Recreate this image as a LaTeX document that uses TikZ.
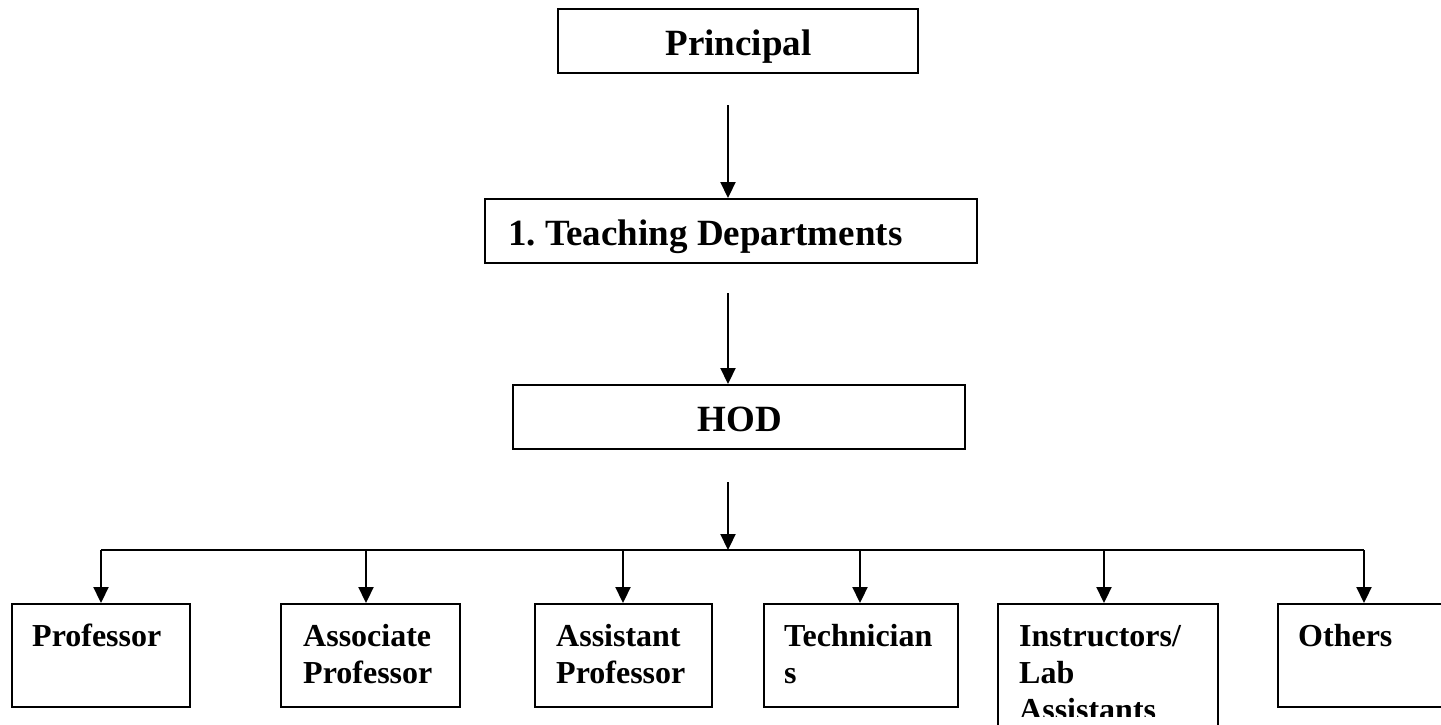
\documentclass[tikz,border=0pt]{standalone}
\usepackage{fontspec}
\setmainfont{Liberation Serif}
\usetikzlibrary{arrows.meta}
\begin{document}
\begin{tikzpicture}[x=1pt,y=-1pt,
  box/.style={draw,line width=2pt,inner sep=0pt},
  conn/.style={line width=2.2pt},
  arr/.style={line width=2.2pt,-{Triangle[length=16pt,width=15pt]}},
  bigtxt/.style={inner sep=0pt,font=\fontsize{37}{42}\selectfont\bfseries},
  smalltxt/.style={inner sep=0pt,align=left,font=\fontsize{32}{37}\selectfont\bfseries}
]
\useasboundingbox (0,0) rectangle (1441,724);
\clip (0,0) rectangle (1441,724);

% top boxes
\node[box,minimum width=360,minimum height=64] (P) at (738,41) {};
\node[bigtxt,anchor=base] (Pt) at (738.5,55) {Principal};
\node[box,minimum width=492,minimum height=64] (T) at (731,231) {};
\node[bigtxt,anchor=base west] (Tt) at (508,245) {1.\ Teaching Departments};
\node[box,minimum width=452,minimum height=64] (H) at (739,417) {};
\node[bigtxt,anchor=base] (Ht) at (740,431) {HOD};

% bottom boxes
\node[box,minimum width=178,minimum height=103] (B1) at (101,655.5) {};
\node[box,minimum width=179,minimum height=103] (B2) at (370.5,655.5) {};
\node[box,minimum width=177,minimum height=103] (B3) at (623.5,655.5) {};
\node[box,minimum width=194,minimum height=103] (B4) at (861,655.5) {};
\node[box,minimum width=220,minimum height=160] (B5) at (1108,684) {};
\node[box,minimum width=200,minimum height=103] (B6) at (1378,655.5) {};

% labels (base anchor = baseline of last line)
\node[smalltxt,anchor=base west] (L1) at (32,646) {Professor};
\node[smalltxt,anchor=base west] (L2) at (303,683) {Associate\\Professor};
\node[smalltxt,anchor=base west] (L3) at (556,683) {Assistant\\Professor};
\node[smalltxt,anchor=base west] (L4) at (784,683) {Technician\\s};
\begin{scope}
  \clip (998,604) rectangle (1218,716);
  \node[smalltxt,anchor=base west] (L5) at (1019,720) {Instructors/\\Lab\\Assistants};
\end{scope}
\node[smalltxt,anchor=base west] (L6) at (1298,646) {Others};

% connectors
\coordinate (a1) at (728,105);
\coordinate (a2) at (728,293);
\coordinate (a3) at (728,482);
\coordinate (h0) at (728,550);
\coordinate (h1) at (101,550);
\coordinate (h2) at (366,550);
\coordinate (h3) at (623,550);
\coordinate (h4) at (860,550);
\coordinate (h5) at (1104,550);
\coordinate (h6) at (1364,550);

\draw[arr] (a1) -- (a1 |- T.north);
\draw[arr] (a2) -- (a2 |- H.north);
\draw[arr] (a3) -- (h0);
\draw[conn] (h1) -- (h6);
\draw[arr] (h1) -- (h1 |- B1.north);
\draw[arr] (h2) -- (h2 |- B2.north);
\draw[arr] (h3) -- (h3 |- B3.north);
\draw[arr] (h4) -- (h4 |- B4.north);
\draw[arr] (h5) -- (h5 |- B5.north);
\draw[arr] (h6) -- (h6 |- B6.north);
\end{tikzpicture}
\end{document}
